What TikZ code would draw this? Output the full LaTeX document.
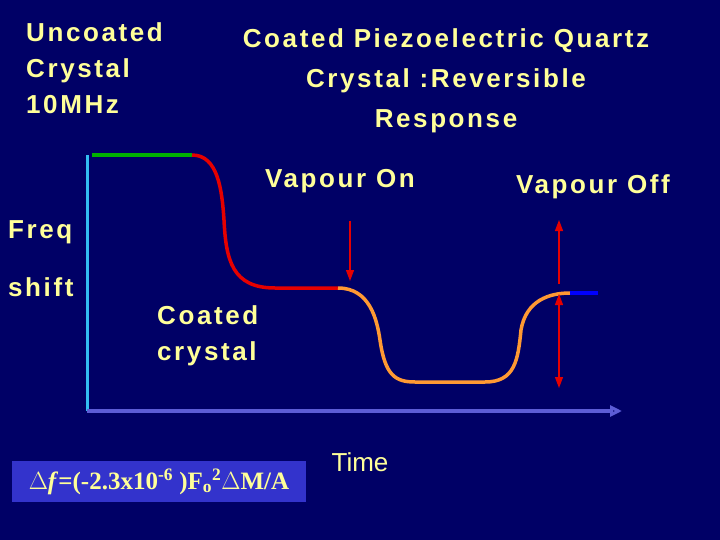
\documentclass[tikz,border=0pt]{standalone}
\usepackage{fontspec}
\setmainfont{Liberation Sans}
\newfontfamily\widefont[LetterSpace=10]{Liberation Sans}
\newfontfamily\timesfont{Liberation Serif}
\usetikzlibrary{arrows.meta}
\definecolor{bgcolor}{RGB}{0,0,102}
\definecolor{pale}{RGB}{255,255,153}
\definecolor{boxblue}{RGB}{51,51,204}
\definecolor{curvered}{RGB}{230,0,0}
\definecolor{curveorange}{RGB}{255,153,51}
\tikzstyle{label} = [text=pale,font=\widefont\bfseries\fontsize{26}{36}\selectfont,inner sep=0pt]
\tikzstyle{marker} = [draw=curvered,line width=1.2pt,-{Triangle[length=11pt,width=8pt]}]
\begin{document}
\begin{tikzpicture}[x=1pt,y=-1pt]
		\fill[bgcolor](0,0)rectangle(720,540);
		\useasboundingbox(0,0)rectangle(720,540);
		% texts
		\node [label,anchor=north west,align=left](uncoated)at(26,22){Uncoated\\Crystal\\10MHz};
		\node [label,anchor=north,align=center,font=\widefont\bfseries\fontsize{26}{40}\selectfont](title)at(446,28){Coated Piezoelectric Quartz\\Crystal :Reversible\\Response};
		\node [label](von)at(340,181){Vapour On};
		\node [label](voff)at(593,187){Vapour Off};
		\node [label,anchor=west](freq)at(8,232){Freq};
		\node [label,anchor=west](shift)at(8,287){shift};
		\node [label,anchor=north west,align=left](coated)at(157,305){Coated\\crystal};
		\node [label,font=\fontsize{26}{36}\selectfont](time)at(360,462){Time};
		\node [fill=boxblue,text=pale,font=\timesfont\bfseries\fontsize{25}{28}\selectfont,minimum width=294pt,minimum height=41pt,inner sep=0pt](formula)at(159,481.5){$\Delta$\textit{f}=(-2.3x10\textsuperscript{-6} )F\textsubscript{o}\textsuperscript{2}$\Delta$M/A};
		% axes
		\coordinate (o) at (87,411);
		\coordinate (ytop) at (87,155);
		\coordinate (xend) at (622,411);
		\draw[cyan!80!white,line width=3pt](o)--(ytop);
		\draw[boxblue!80!white,line width=3.5pt,-{Triangle[open,length=12pt,width=11pt]}](o)--(xend);
		% response curve
		\coordinate (s0) at (92,155);
		\coordinate (s1) at (192,155);
		\coordinate (s2) at (338,288);
		\coordinate (s3) at (570,293);
		\coordinate (s4) at (598,293);
		\draw[green!70!black,line width=3.5pt](s0)--(s1);
		\draw[curvered,line width=3.5pt](s1)..controls(218,155)and(222,190)..(224,220)
			..controls(226,260)and(232,288)..(275,288)--(s2);
		\draw[curveorange,line width=3.5pt](s2)..controls(370,288)and(377,320)..(380,340)
			..controls(385,375)and(395,382)..(415,382)--(485,382)
			..controls(515,382)and(518,360)..(521,330)
			..controls(526,300)and(550,293)..(s3);
		\draw[blue,line width=3.5pt](s3)--(s4);
		% vapour markers
		\coordinate (ona) at (350,221);
		\coordinate (onb) at (350,281);
		\draw[marker](ona)--(onb);
		\coordinate (offa) at (559,284);
		\coordinate (offb) at (559,220);
		\coordinate (offc) at (559,294);
		\coordinate (offd) at (559,388);
		\draw[marker](offa)--(offb);
		\draw[marker,{Triangle[length=11pt,width=8pt]}-{Triangle[length=11pt,width=8pt]}](offc)--(offd);
		\end{tikzpicture}
\end{document}
